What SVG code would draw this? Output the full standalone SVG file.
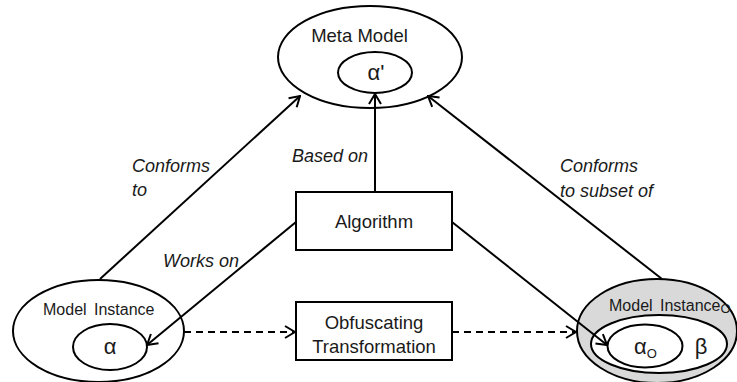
<svg xmlns="http://www.w3.org/2000/svg" width="737" height="382" viewBox="0 0 737 382">
  <style>
    .shape { fill: #ffffff; stroke: #000000; stroke-width: 2; }
    .gray { fill: #d9d9d9; stroke: #000000; stroke-width: 2; }
    .label { font-family: "Liberation Sans", Arial, sans-serif; fill: #1a1a1a; }
    .big { font-size: 18.5px; }
    .greek { font-size: 22px; }
    .mid { font-size: 16px; word-spacing: 3px; }
    .sub { font-size: 13px; }
    .edge-label { font-family: "Liberation Sans", Arial, sans-serif; font-style: italic; font-size: 18px; fill: #1a1a1a; }
    .conn { fill: none; stroke: #000000; stroke-width: 2; }
    .dashed { stroke-dasharray: 7 5; }
  </style>
  <defs>
    <marker id="open-arrow" viewBox="0 0 12 14" refX="11" refY="7" markerWidth="12" markerHeight="14" markerUnits="userSpaceOnUse" orient="auto">
      <path d="M1,1 L11,7 L1,13" fill="none" stroke="#000000" stroke-width="2"/>
    </marker>
  </defs>

  <rect width="737" height="382" fill="#ffffff"/>

  <!-- Meta model with nested alpha' -->
  <g id="meta-model">
    <ellipse class="shape" cx="370" cy="57" rx="92" ry="51"/>
    <text class="label big" x="359.5" y="42" text-anchor="middle">Meta Model</text>
    <ellipse class="shape" cx="375" cy="72.5" rx="37" ry="20.5"/>
    <text class="label greek" x="376" y="80" text-anchor="middle">α'</text>
  </g>

  <!-- Algorithm box -->
  <g id="algorithm">
    <rect class="shape" x="296" y="192" width="156" height="58"/>
    <text class="label big" x="374" y="228" text-anchor="middle">Algorithm</text>
  </g>

  <!-- Obfuscating transformation box -->
  <g id="obfuscating-transformation">
    <rect class="shape" x="296" y="302" width="156" height="58"/>
    <text class="label big" x="374" y="329" text-anchor="middle">Obfuscating</text>
    <text class="label big" x="374" y="353" text-anchor="middle">Transformation</text>
  </g>

  <!-- Original model instance -->
  <g id="model-instance">
    <ellipse class="shape" cx="98.5" cy="331" rx="85.5" ry="51"/>
    <text class="label mid" x="43" y="315">Model Instance</text>
    <ellipse class="shape" cx="110" cy="347" rx="37" ry="23"/>
    <text class="label greek" x="110" y="354" text-anchor="middle">α</text>
  </g>

  <!-- Obfuscated model instance -->
  <g id="model-instance-o">
    <ellipse class="gray" cx="657" cy="331" rx="80" ry="52"/>
    <text class="label mid" x="609" y="311">Model Instance<tspan class="sub" dy="2">O</tspan></text>
    <ellipse class="shape" cx="659" cy="344" rx="68" ry="29"/>
    <ellipse class="shape" cx="645" cy="346" rx="37.5" ry="21.5"/>
    <text class="label greek" x="634" y="354">α<tspan class="sub" dy="4">O</tspan></text>
    <text class="label greek" x="701" y="354" text-anchor="middle">β</text>
  </g>

  <!-- Connectors -->
  <g id="connectors">
    <path class="conn" d="M100,279 L300,96" marker-end="url(#open-arrow)"/>
    <path class="conn" d="M375,192 L375,94" marker-end="url(#open-arrow)"/>
    <path class="conn" d="M662,279 L428,96" marker-end="url(#open-arrow)"/>
    <path class="conn" d="M296,222 L147,345" marker-end="url(#open-arrow)"/>
    <path class="conn" d="M452,222 L607,345" marker-end="url(#open-arrow)"/>
    <path class="conn dashed" d="M184,332 L295,332" marker-end="url(#open-arrow)"/>
    <path class="conn dashed" d="M452,332 L576,332" marker-end="url(#open-arrow)"/>
  </g>

  <!-- Connector labels -->
  <g id="connector-labels">
    <text class="edge-label" x="132" y="172">Conforms</text>
    <text class="edge-label" x="132" y="196">to</text>
    <text class="edge-label" x="292" y="162">Based on</text>
    <text class="edge-label" x="163" y="267">Works on</text>
    <text class="edge-label" x="560" y="172">Conforms</text>
    <text class="edge-label" x="560" y="197">to subset of</text>
  </g>
</svg>
